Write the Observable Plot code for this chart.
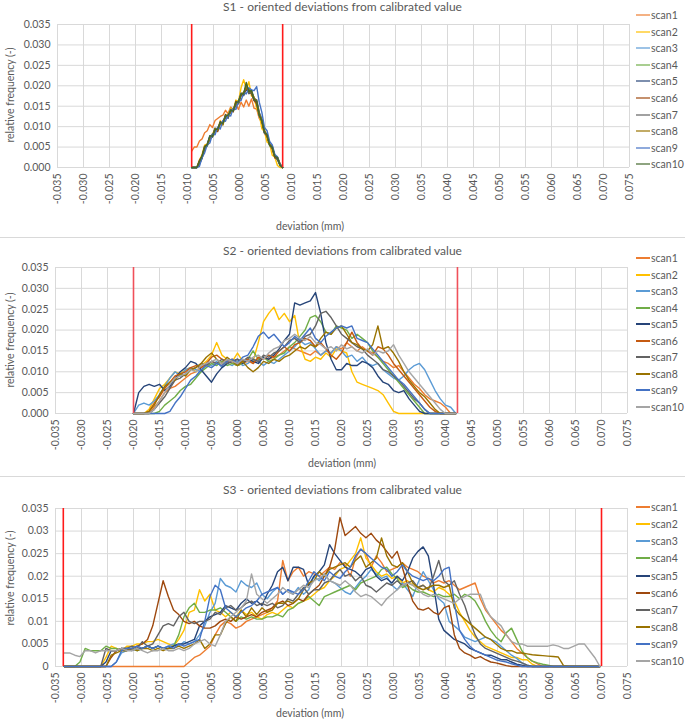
<!DOCTYPE html>
<html><head><meta charset="utf-8">
<script src="https://cdn.jsdelivr.net/npm/d3@7"></script>
<script src="https://cdn.jsdelivr.net/npm/@observablehq/plot@0.6"></script>
<style>
body{margin:0;background:#fff;font-family:Lato,"Open Sans",sans-serif;}
#page{position:relative;width:685px;height:719px;overflow:hidden;background:#fff}
.abs{position:absolute}
.title{left:0;width:685px;text-align:center;font-size:12px;color:#595959;line-height:14px;white-space:nowrap}
.xlab{font-size:10.5px;color:#595959;line-height:12px;white-space:nowrap;transform:translateX(-50%)}
.ylab{font-size:10.5px;color:#595959;line-height:12px;white-space:nowrap;transform:translate(-50%,-50%) rotate(-90deg)}
.leg{font-size:10.5px;color:#595959;line-height:14px;height:14px;white-space:nowrap;display:flex;align-items:center}
.sw{display:inline-block;width:14px;height:2px;margin-right:1px}
.sep{left:0;width:685px;height:1px;background:#d9d9d9}
</style></head><body><div id="page"></div>
<script>
// ---------- shared axis data ----------
const scanNames = ["scan1","scan2","scan3","scan4","scan5","scan6","scan7","scan8","scan9","scan10"];
const xTicks = [-0.035,-0.03,-0.025,-0.02,-0.015,-0.01,-0.005,0,0.005,0.01,0.015,0.02,0.025,0.03,0.035,0.04,0.045,0.05,0.055,0.06,0.065,0.07,0.075];
const yTicks = [0,0.005,0.01,0.015,0.02,0.025,0.03,0.035];

// ---------- S1 (bins: -0.0092 + i*0.0005, 36 bins) ----------
const s1Title = "S1 - oriented deviations from calibrated value";
const s1BinStart = -0.0092, s1BinStep = 0.0005;
const s1Limits = [-0.0092, 0.0083];
const s1Colors = ["#ED7D31","#FFC000","#5B9BD5","#70AD47","#264478","#9E480E","#636363","#997300","#4472C4","#43682B"];
const s1Scan1 = [0.004,0.005,0.005,0.0065,0.007,0.0085,0.009,0.0105,0.0098,0.0115,0.012,0.0125,0.0128,0.014,0.0132,0.0148,0.014,0.0155,0.0142,0.016,0.0148,0.0165,0.015,0.0168,0.0145,0.0143,0.012,0.011,0.0085,0.0075,0.0055,0.005,0.0027,0.0023,0.0008,0];
const s1Scan2 = [0,0,0,0.0018,0.0032,0.0055,0.0058,0.0075,0.0082,0.0095,0.0092,0.0115,0.0105,0.013,0.0128,0.0145,0.014,0.0165,0.0162,0.0195,0.0215,0.0192,0.021,0.0175,0.0172,0.0145,0.013,0.0095,0.0088,0.0062,0.0058,0.003,0.0025,0.0005,0,0];
const s1Scan3 = [0,0,0,0.0012,0.0024,0.0046,0.0058,0.0078,0.0074,0.0095,0.009,0.0108,0.011,0.0124,0.012,0.0142,0.0138,0.016,0.0158,0.0182,0.0178,0.0192,0.0188,0.019,0.017,0.0165,0.0135,0.012,0.0088,0.0082,0.0058,0.0052,0.0028,0.0025,0.0008,0];
const s1Scan4 = [0,0,0,0.0015,0.0028,0.0052,0.0052,0.0072,0.0078,0.009,0.0094,0.0109,0.0106,0.0126,0.0124,0.0136,0.0141,0.0155,0.0164,0.0176,0.0182,0.0199,0.0184,0.0182,0.0166,0.0156,0.0126,0.0112,0.0088,0.0076,0.0054,0.0046,0.0024,0.0021,0.0004,0];
const s1Scan5 = [0,0,0,0.0008,0.0022,0.0048,0.0054,0.0076,0.0075,0.0096,0.0092,0.0112,0.0108,0.0129,0.0122,0.0139,0.0138,0.0156,0.0156,0.0179,0.0176,0.0194,0.0181,0.0184,0.0164,0.0159,0.0128,0.0116,0.0084,0.0079,0.0054,0.0049,0.0026,0.0019,0.0006,0];
const s1Scan6 = [0,0,0,0.0018,0.0027,0.0052,0.0056,0.0072,0.0078,0.0092,0.0088,0.0109,0.0111,0.0122,0.0126,0.0139,0.0136,0.0162,0.0158,0.0176,0.0181,0.0192,0.0191,0.0182,0.0164,0.0156,0.0131,0.0112,0.0086,0.0076,0.0056,0.0046,0.0024,0.0024,0.0007,0];
const s1Scan7 = [0,0,0,0.0013,0.0027,0.0046,0.0054,0.0074,0.0081,0.0089,0.0094,0.0106,0.0108,0.0126,0.0121,0.0142,0.0141,0.0152,0.0161,0.0182,0.0178,0.0202,0.0181,0.0189,0.0166,0.0166,0.0134,0.0116,0.0084,0.0082,0.0058,0.0049,0.0028,0.0022,0.0005,0];
const s1Scan8 = [0,0,0,0.0011,0.0025,0.0049,0.0056,0.0069,0.0076,0.0096,0.0091,0.0109,0.0104,0.0126,0.0126,0.0136,0.0144,0.0156,0.0158,0.0179,0.0184,0.0196,0.0186,0.0186,0.0171,0.0162,0.0131,0.0116,0.0091,0.0079,0.0056,0.0052,0.0028,0.0026,0.0009,0];
const s1Scan9 = [0,0,0,0.0003,0.0025,0.0036,0.0056,0.006,0.0082,0.008,0.0099,0.0094,0.0115,0.0113,0.013,0.0126,0.0145,0.0142,0.0162,0.0164,0.0182,0.018,0.0195,0.019,0.0188,0.0198,0.016,0.0135,0.0098,0.009,0.0064,0.0055,0.0032,0.0026,0.0008,0];
const s1Scan10 = [0,0,0,0.0015,0.0028,0.005,0.0056,0.0078,0.0076,0.0093,0.0094,0.011,0.0108,0.0125,0.0128,0.014,0.0138,0.016,0.016,0.018,0.018,0.0208,0.0186,0.0188,0.0166,0.0162,0.0128,0.0115,0.0086,0.008,0.0054,0.005,0.0027,0.0024,0.0006,0];

// ---------- S2 (bins: -0.020 + i*0.001, 63 bins) ----------
const s2Title = "S2 - oriented deviations from calibrated value";
const s2BinStart = -0.020, s2BinStep = 0.001;
const s2Limits = [-0.020, 0.0423];
const s2Colors = ["#ED7D31","#FFC000","#5B9BD5","#70AD47","#264478","#C55A11","#636363","#997300","#4472C4","#A5A5A5"];
const s2Scan1 = [0,0,0,0,0.0015,0.003,0.005,0.006,0.0065,0.0075,0.0085,0.0095,0.01,0.011,0.0115,0.0125,0.012,0.0115,0.0125,0.012,0.0115,0.012,0.0125,0.012,0.013,0.0135,0.013,0.0135,0.014,0.015,0.016,0.0155,0.015,0.0145,0.014,0.015,0.014,0.015,0.0145,0.016,0.0155,0.017,0.016,0.015,0.016,0.015,0.0145,0.0135,0.0125,0.012,0.011,0.0115,0.01,0.0085,0.007,0.006,0.0045,0.0035,0.003,0.0025,0.0015,0,0];
const s2Scan2 = [0,0,0,0.001,0.0035,0.006,0.007,0.0085,0.01,0.0095,0.0105,0.011,0.01,0.0115,0.0125,0.014,0.017,0.014,0.013,0.0125,0.0145,0.0125,0.013,0.0125,0.017,0.022,0.024,0.0255,0.0225,0.024,0.022,0.0235,0.0165,0.013,0.0125,0.0135,0.013,0.0145,0.0135,0.0155,0.015,0.0145,0.01,0.0075,0.007,0.0065,0.006,0.0055,0.0045,0.0025,0.0005,0,0,0,0,0,0,0,0,0,0,0,0];
const s2Scan3 = [0,0.002,0.0025,0.002,0.003,0.0045,0.0065,0.0085,0.01,0.009,0.0105,0.011,0.0105,0.01,0.012,0.0115,0.0125,0.011,0.012,0.0115,0.0125,0.0115,0.012,0.013,0.0125,0.0115,0.0125,0.012,0.013,0.014,0.015,0.016,0.0175,0.0165,0.017,0.0155,0.014,0.015,0.0145,0.016,0.015,0.0135,0.014,0.0125,0.0135,0.012,0.0115,0.012,0.0105,0.0095,0.0085,0.008,0.009,0.0105,0.0115,0.012,0.0105,0.008,0.0055,0.0035,0.002,0.0015,0];
const s2Scan4 = [0,0,0,0,0,0.0005,0.002,0.003,0.004,0.0055,0.0065,0.007,0.0085,0.01,0.011,0.012,0.0115,0.0125,0.0115,0.012,0.0115,0.012,0.013,0.015,0.013,0.0135,0.0125,0.013,0.014,0.0145,0.016,0.017,0.0185,0.02,0.023,0.0235,0.022,0.0195,0.019,0.021,0.0205,0.02,0.018,0.019,0.018,0.017,0.015,0.0135,0.012,0.0105,0.009,0.0075,0.006,0.0045,0.003,0.0015,0,0,0,0,0,0,0];
const s2Scan5 = [0,0.005,0.0065,0.007,0.0065,0.007,0.0055,0.0065,0.0085,0.01,0.011,0.0125,0.012,0.0105,0.009,0.0075,0.0095,0.011,0.012,0.0125,0.013,0.012,0.013,0.0125,0.012,0.0135,0.013,0.014,0.0155,0.0175,0.019,0.0265,0.026,0.0265,0.027,0.029,0.024,0.017,0.013,0.0105,0.0105,0.012,0.0115,0.0115,0.0125,0.012,0.011,0.009,0.0075,0.007,0.0055,0.005,0.0055,0.0035,0.002,0.0005,0,0,0,0,0,0,0];
const s2Scan6 = [0,0,0,0.0005,0.0025,0.004,0.006,0.0075,0.009,0.0095,0.01,0.011,0.0115,0.011,0.012,0.0135,0.014,0.013,0.0125,0.013,0.012,0.0125,0.013,0.012,0.0135,0.013,0.014,0.0135,0.015,0.016,0.015,0.0165,0.017,0.018,0.0175,0.016,0.017,0.0155,0.014,0.013,0.0145,0.017,0.0195,0.017,0.0155,0.015,0.014,0.016,0.0155,0.014,0.012,0.0105,0.009,0.0075,0.006,0.0045,0.003,0.0015,0.0005,0,0,0,0];
const s2Scan7 = [0,0,0,0,0.001,0.0025,0.004,0.006,0.008,0.0085,0.0095,0.0105,0.011,0.012,0.0115,0.0125,0.012,0.013,0.012,0.0125,0.013,0.0125,0.0135,0.013,0.0125,0.014,0.0135,0.0145,0.015,0.016,0.0175,0.018,0.017,0.0185,0.019,0.021,0.024,0.0245,0.023,0.021,0.019,0.018,0.017,0.016,0.0155,0.014,0.013,0.012,0.0105,0.01,0.009,0.008,0.0065,0.005,0.0035,0.0025,0.001,0,0,0,0,0,0];
const s2Scan8 = [0,0,0,0.0005,0.002,0.0045,0.0065,0.0075,0.008,0.0095,0.009,0.0105,0.011,0.012,0.0135,0.0145,0.013,0.012,0.0135,0.0125,0.0115,0.0125,0.011,0.01,0.011,0.0125,0.012,0.013,0.0125,0.0135,0.014,0.015,0.016,0.0155,0.0165,0.016,0.018,0.0195,0.019,0.0205,0.021,0.019,0.017,0.0165,0.0155,0.015,0.0165,0.021,0.0155,0.016,0.0145,0.0125,0.01,0.008,0.0065,0.005,0.004,0.0025,0.001,0,0,0,0];
const s2Scan9 = [0,0,0,0,0,0,0,0.0005,0.0025,0.004,0.006,0.008,0.009,0.0105,0.0115,0.011,0.012,0.0115,0.0125,0.013,0.012,0.0135,0.014,0.016,0.0185,0.0195,0.018,0.019,0.0175,0.016,0.017,0.0185,0.0175,0.019,0.0205,0.018,0.017,0.0185,0.0195,0.0205,0.021,0.0205,0.021,0.018,0.0175,0.017,0.0155,0.014,0.0125,0.011,0.0095,0.008,0.007,0.0055,0.004,0.0025,0.001,0,0,0,0,0,0];
const s2Scan10 = [0,0,0,0,0.001,0.003,0.005,0.007,0.0085,0.009,0.0095,0.0105,0.01,0.0115,0.012,0.0125,0.013,0.012,0.013,0.0125,0.012,0.013,0.0125,0.0135,0.014,0.013,0.0145,0.0155,0.016,0.0175,0.018,0.019,0.018,0.0175,0.0185,0.017,0.0165,0.0155,0.016,0.015,0.0165,0.0155,0.016,0.015,0.0145,0.0155,0.014,0.015,0.0145,0.015,0.0165,0.014,0.012,0.01,0.0085,0.007,0.0055,0.004,0.0025,0.001,0,0,0];

// ---------- S3 (bins: -0.0333 + i*0.001, 104 bins) ----------
const s3Title = "S3 - oriented deviations from calibrated value";
const s3BinStart = -0.0333, s3BinStep = 0.001;
const s3Limits = [-0.0335, 0.0700];
const s3Colors = ["#ED7D31","#FFC000","#5B9BD5","#70AD47","#264478","#9E480E","#636363","#997300","#4472C4","#A5A5A5"];
const s3Scan1 = [0,0,0,0,0,0,0,0,0,0, 0,0,0,0,0,0,0,0,0,0, 0,0,0,0,0.001,0.002,0.0025,0.0035,0.0045,0.007, 0.009,0.01,0.0095,0.0085,0.009,0.01,0.0105,0.011,0.0115,0.012, 0.013,0.0145,0.0235,0.019,0.021,0.022,0.02,0.021,0.0205,0.02, 0.021,0.022,0.0215,0.023,0.0225,0.02,0.024,0.026,0.025,0.022, 0.0245,0.023,0.021,0.0215,0.022,0.023,0.022,0.0215,0.021,0.02, 0.0195,0.0185,0.019,0.0185,0.019,0.018,0.017,0.0175,0.018,0.0185, 0.015,0.0125,0.011,0.0095,0.008,0.007,0.0055,0.004,0.003,0.002, 0.0012,0.0006,0,0,0,0,0,0,0,0, 0,0,0,0];
const s3Scan2 = [0,0,0,0,0,0,0,0,0.002,0.0045, 0.004,0.0035,0.0045,0.0045,0.005,0.005,0.0055,0.0055,0.006,0.0055, 0.005,0.0045,0.006,0.008,0.012,0.0125,0.017,0.0145,0.016,0.0125, 0.012,0.011,0.012,0.011,0.0125,0.0115,0.012,0.011,0.0105,0.0115, 0.012,0.0115,0.0125,0.0135,0.013,0.014,0.0145,0.015,0.016,0.017, 0.0175,0.019,0.02,0.0215,0.022,0.0235,0.025,0.0285,0.024,0.0225, 0.021,0.02,0.0205,0.0195,0.02,0.0185,0.019,0.018,0.0175,0.018, 0.017,0.0165,0.0175,0.017,0.016,0.0145,0.012,0.01,0.008,0.0065, 0.0055,0.0045,0.004,0.0035,0.003,0.0025,0.002,0.002,0.0015,0.0015, 0.0005,0,0,0,0,0,0,0,0,0, 0,0,0,0];
const s3Scan3 = [0,0,0,0,0,0,0,0,0,0, 0.001,0.003,0.0035,0.004,0.0035,0.004,0.0045,0.004,0.0045,0.004, 0.0045,0.005,0.0045,0.0055,0.005,0.0055,0.007,0.009,0.012,0.014, 0.0195,0.018,0.0175,0.0165,0.019,0.018,0.0175,0.0185,0.016,0.015, 0.0165,0.0175,0.016,0.017,0.016,0.0175,0.016,0.017,0.02,0.019, 0.0205,0.019,0.0185,0.0175,0.0165,0.016,0.0175,0.019,0.02,0.0215, 0.0205,0.0195,0.02,0.018,0.017,0.0185,0.017,0.0155,0.0185,0.021, 0.019,0.017,0.015,0.014,0.01,0.009,0.008,0.0065,0.006,0.0055, 0.006,0.0065,0.006,0.0055,0.0045,0.0035,0.0025,0.0018,0.0008,0.0003, 0,0,0,0,0,0,0,0,0,0, 0,0,0,0];
const s3Scan4 = [0,0,0,0.001,0.004,0.0035,0.0035,0.0035,0.0045,0.004, 0.004,0.0035,0.004,0.004,0.0035,0.004,0.0045,0.004,0.0045,0.004, 0.004,0.0045,0.007,0.011,0.013,0.014,0.012,0.012,0.0125,0.0125, 0.013,0.012,0.011,0.01,0.011,0.0105,0.011,0.0105,0.0105,0.011, 0.011,0.0115,0.011,0.0125,0.013,0.014,0.0145,0.0155,0.0145,0.0135, 0.0155,0.016,0.0165,0.017,0.0175,0.018,0.017,0.0185,0.019,0.0195, 0.02,0.0215,0.022,0.0205,0.0195,0.0175,0.018,0.017,0.0165,0.0165, 0.016,0.0155,0.016,0.0155,0.0155,0.016,0.015,0.016,0.0155,0.0145, 0.0125,0.01,0.008,0.0065,0.0055,0.0075,0.0085,0.006,0.0035,0.002, 0.0012,0.0008,0.0005,0.0003,0,0,0,0,0,0, 0,0,0,0];
const s3Scan5 = [0,0,0,0,0,0,0,0,0.001,0.0035, 0.0035,0.004,0.004,0.0035,0.004,0.004,0.0045,0.004,0.0045,0.004, 0.004,0.0045,0.005,0.005,0.0055,0.006,0.009,0.01,0.011,0.0115, 0.012,0.0135,0.013,0.0125,0.014,0.015,0.014,0.0145,0.0135,0.016, 0.018,0.021,0.022,0.019,0.022,0.022,0.0215,0.018,0.02,0.021, 0.0225,0.027,0.025,0.0235,0.022,0.0215,0.021,0.02,0.0215,0.022, 0.02,0.019,0.0195,0.0185,0.02,0.019,0.021,0.024,0.0255,0.0265, 0.0245,0.018,0.0105,0.008,0.007,0.006,0.0055,0.005,0.004,0.0035, 0.003,0.0025,0.0025,0.002,0.0015,0.0015,0.001,0.0005,0.0003,0, 0,0,0,0,0,0,0,0,0,0, 0,0,0,0];
const s3Scan6 = [0,0,0,0,0,0,0,0,0,0.002, 0.0035,0.004,0.0035,0.004,0.0045,0.005,0.006,0.009,0.014,0.019, 0.0155,0.0125,0.0115,0.01,0.0095,0.01,0.009,0.0085,0.0085,0.009, 0.01,0.0105,0.01,0.011,0.0105,0.011,0.0115,0.011,0.012,0.0125, 0.013,0.014,0.0145,0.0135,0.014,0.015,0.0145,0.016,0.017,0.018, 0.02,0.022,0.026,0.033,0.029,0.03,0.031,0.0295,0.0285,0.0295, 0.028,0.027,0.0255,0.024,0.0255,0.022,0.018,0.0145,0.0128,0.0125, 0.013,0.012,0.0115,0.013,0.0135,0.007,0.004,0.003,0.0025,0.0018, 0.0022,0.0015,0.001,0.0008,0.0005,0.0002,0,0,0,0, 0,0,0,0,0,0,0,0,0,0, 0,0,0,0];
const s3Scan7 = [0,0,0,0,0,0,0,0,0.004,0.0035, 0.0035,0.004,0.004,0.0045,0.004,0.0055,0.0045,0.005,0.007,0.009, 0.0095,0.009,0.011,0.012,0.01,0.0095,0.01,0.01,0.0105,0.012, 0.0115,0.013,0.0135,0.0125,0.013,0.014,0.0145,0.0135,0.014,0.0135, 0.014,0.013,0.0135,0.015,0.0145,0.016,0.0175,0.016,0.017,0.017, 0.0185,0.019,0.0205,0.0215,0.02,0.0205,0.019,0.02,0.018,0.0175, 0.0165,0.0175,0.0185,0.018,0.019,0.018,0.0185,0.019,0.0175,0.018, 0.017,0.02,0.0235,0.019,0.018,0.019,0.016,0.0135,0.01,0.007, 0.005,0.004,0.0035,0.003,0.0025,0.002,0.0015,0.0012,0.0008,0.0003, 0,0,0,0,0,0,0,0,0,0, 0,0,0,0];
const s3Scan8 = [0,0,0,0,0,0,0,0,0,0.0025, 0.003,0.0035,0.0035,0.004,0.0035,0.004,0.004,0.0035,0.004,0.0035, 0.004,0.004,0.0045,0.004,0.0045,0.005,0.006,0.004,0.005,0.007, 0.007,0.0095,0.011,0.01,0.0125,0.011,0.013,0.0115,0.013,0.012, 0.0125,0.014,0.014,0.0145,0.014,0.015,0.017,0.0185,0.019,0.021, 0.02,0.0215,0.022,0.0225,0.023,0.022,0.0235,0.0245,0.022,0.023, 0.024,0.0285,0.0245,0.0225,0.022,0.023,0.021,0.0185,0.0175,0.017, 0.0175,0.018,0.018,0.0175,0.018,0.013,0.0115,0.0105,0.0095,0.0085, 0.0075,0.0065,0.006,0.005,0.004,0.0035,0.0035,0.003,0.003,0.0028, 0.0026,0.0025,0.0024,0.0023,0.0022,0.0021,0.0002,0,0,0, 0,0,0,0];
const s3Scan9 = [0,0,0,0,0,0,0,0,0,0, 0.001,0.0035,0.004,0.004,0.0045,0.004,0.0045,0.004,0.0045,0.004, 0.0045,0.004,0.005,0.0045,0.005,0.0055,0.006,0.01,0.0155,0.018, 0.017,0.013,0.012,0.011,0.012,0.013,0.0135,0.0145,0.016,0.0165, 0.017,0.0175,0.016,0.017,0.0165,0.016,0.017,0.019,0.021,0.02, 0.019,0.021,0.02,0.0195,0.021,0.022,0.0245,0.026,0.025,0.024, 0.023,0.022,0.0215,0.02,0.021,0.0225,0.021,0.02,0.0195,0.019, 0.0195,0.019,0.02,0.0215,0.022,0.014,0.008,0.006,0.0045,0.0035, 0.003,0.0025,0.002,0.0015,0.0012,0.001,0.0006,0.0003,0,0, 0,0,0,0,0,0,0,0,0,0, 0,0,0,0];
const s3Scan10 = [0.003,0.003,0.0025,0.0022,0.0035,0.0035,0.003,0.0035,0.0035,0.0035, 0.0035,0.004,0.0035,0.0035,0.004,0.0035,0.003,0.0035,0.0035,0.004, 0.0035,0.0035,0.004,0.0035,0.004,0.005,0.0055,0.006,0.005,0.0045, 0.007,0.01,0.011,0.012,0.013,0.0145,0.0205,0.016,0.015,0.014, 0.015,0.016,0.0175,0.0165,0.016,0.017,0.018,0.0175,0.019,0.0195, 0.0205,0.019,0.0185,0.018,0.019,0.018,0.0165,0.0155,0.016,0.0155, 0.0145,0.0135,0.015,0.016,0.017,0.018,0.0185,0.018,0.017,0.016, 0.0155,0.016,0.0155,0.015,0.0145,0.014,0.015,0.0155,0.016,0.016, 0.016,0.013,0.011,0.01,0.009,0.007,0.0055,0.005,0.005,0.0045, 0.0045,0.0045,0.0045,0.0045,0.0048,0.0045,0.004,0.004,0.0045,0.005, 0.005,0.0035,0.002,0];

// ---------- layout ----------
const page = document.getElementById("page");
function el(cls, css, text) {
  const d = document.createElement("div");
  d.className = "abs " + cls;
  Object.assign(d.style, css);
  if (text != null) d.textContent = text;
  page.appendChild(d);
  return d;
}

function drawPanel(cfg) {
  const {series, colors, binStart, binStep, limits, title, svgTop, svgHeight, mTop, mBottom, mLeft, mRight,
         yFmt, titleY, xLabX, xLabY, yLabY, legTop, legStep, legOpacity, redColor} = cfg;
  const data = [];
  series.forEach((vals, k) => vals.forEach((v, i) => data.push({x: binStart + i * binStep, y: v, scan: scanNames[k]})));
  const chart = Plot.plot({
    width: 685, height: svgHeight,
    marginTop: mTop, marginBottom: mBottom, marginLeft: mLeft, marginRight: mRight,
    style: {fontFamily: "Lato, 'Open Sans', sans-serif", fontSize: "10.5px", color: "#595959", background: "transparent", overflow: "visible"},
    x: {domain: [-0.035, 0.075], ticks: xTicks, tickFormat: d => d.toFixed(3), tickRotate: -90, tickSize: 0, tickPadding: 6, label: null},
    y: {domain: [0, 0.035], ticks: yTicks, tickFormat: yFmt, tickSize: 0, tickPadding: 7, label: null},
    color: {domain: scanNames, range: colors},
    marks: [
      Plot.gridX(xTicks, {stroke: "#d9d9d9", strokeOpacity: 1}),
      Plot.gridY(yTicks, {stroke: "#d9d9d9", strokeOpacity: 1}),
      Plot.line(data, {x: "x", y: "y", z: "scan", stroke: "scan", strokeWidth: 1.4}),
      Plot.ruleX(limits, {stroke: redColor, strokeWidth: 1.6})
    ]
  });
  const holder = el("", {left: "0px", top: svgTop + "px", width: "685px", height: svgHeight + "px"});
  holder.appendChild(chart);
  el("title", {top: (titleY - 7) + "px"}, title);
  el("xlab", {left: xLabX + "px", top: (xLabY - 6) + "px"}, "deviation (mm)");
  el("ylab", {left: "10px", top: yLabY + "px"}, "relative frequency (-)");
  scanNames.forEach((name, k) => {
    const item = el("leg", {left: "636px", top: (legTop + k * legStep - 7) + "px"});
    const sw = document.createElement("span");
    sw.className = "sw";
    sw.style.background = colors[k];
    sw.style.opacity = legOpacity;
    item.appendChild(sw);
    item.appendChild(document.createTextNode(name));
  });
}

drawPanel({
  series: [s1Scan1,s1Scan2,s1Scan3,s1Scan4,s1Scan5,s1Scan6,s1Scan7,s1Scan8,s1Scan9,s1Scan10],
  colors: s1Colors, binStart: s1BinStart, binStep: s1BinStep, limits: s1Limits, title: s1Title,
  svgTop: 0, svgHeight: 234, mTop: 24, mBottom: 67, mLeft: 57, mRight: 56,
  yFmt: d => d.toFixed(3), titleY: 7, xLabX: 310, xLabY: 226, yLabY: 95, legTop: 15, legStep: 16.6, legOpacity: 0.6,
  redColor: "#ff1a1a"
});
el("sep", {top: "237px"});
drawPanel({
  series: [s2Scan1,s2Scan2,s2Scan3,s2Scan4,s2Scan5,s2Scan6,s2Scan7,s2Scan8,s2Scan9,s2Scan10],
  colors: s2Colors, binStart: s2BinStart, binStep: s2BinStep, limits: s2Limits, title: s2Title,
  svgTop: 238, svgHeight: 234, mTop: 29, mBottom: 59, mLeft: 55, mRight: 58,
  yFmt: d => d.toFixed(3), titleY: 251, xLabX: 342, xLabY: 463, yLabY: 340, legTop: 258, legStep: 16.55, legOpacity: 1,
  redColor: "#f0505a"
});
el("sep", {top: "476px"});
drawPanel({
  series: [s3Scan1,s3Scan2,s3Scan3,s3Scan4,s3Scan5,s3Scan6,s3Scan7,s3Scan8,s3Scan9,s3Scan10],
  colors: s3Colors, binStart: s3BinStart, binStep: s3BinStep, limits: s3Limits, title: s3Title,
  svgTop: 477, svgHeight: 242, mTop: 31, mBottom: 53, mLeft: 55, mRight: 58,
  yFmt: d => String(d), titleY: 490, xLabX: 310, xLabY: 713, yLabY: 578, legTop: 507, legStep: 17.15, legOpacity: 1,
  redColor: "#ff1a1a"
});
</script></body></html>
